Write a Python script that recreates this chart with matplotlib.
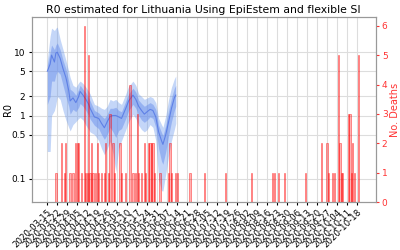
import numpy as np
import pandas as pd
import matplotlib
matplotlib.use("Agg")
import matplotlib.pyplot as plt
from matplotlib.ticker import FixedLocator, FixedFormatter, NullLocator

start = pd.Timestamp("2020-03-15")

# R0 estimates (day offsets from 2020-03-15)
r_day = [0, 2, 3, 5, 6, 7, 9, 11, 13, 15, 16, 18, 20, 22, 23, 25, 27, 29, 30, 33, 36, 38, 40, 42,
         44, 46, 48, 50, 52, 55, 57, 60, 62, 64, 66, 68, 70, 72, 74, 76, 78, 80, 81, 83, 85, 87, 89, 90]
r_med = [5.0, 6.5, 9.0, 7.0, 9.7, 10.0, 8.0, 5.5, 4.0, 2.5, 1.7, 1.9, 1.6, 2.0, 2.4, 2.1, 1.8, 1.5,
         1.3, 0.95, 0.9, 0.75, 0.64, 0.8, 0.97, 1.0, 1.0, 0.95, 0.9, 1.3, 1.7, 2.1, 1.8, 1.4, 1.2,
         1.05, 1.15, 1.25, 1.2, 0.95, 0.55, 0.4, 0.35, 0.5, 0.8, 1.3, 1.9, 2.1]
r_hi95 = [7.5, 18, 24, 22, 24, 25, 16, 11, 7.5, 5.0, 4.0, 3.0, 2.8, 3.3, 3.5, 3.2, 2.8, 2.4, 2.2,
          1.5, 1.4, 1.3, 1.25, 1.4, 1.8, 1.7, 1.8, 1.6, 1.5, 2.2, 2.9, 3.5, 3.0, 2.2, 2.0, 1.8,
          1.9, 2.0, 1.9, 1.6, 0.9, 0.72, 0.65, 1.0, 1.8, 2.8, 3.8, 4.2]
r_lo95 = [0.27, 0.27, 1.0, 1.2, 1.5, 2.0, 1.8, 1.2, 0.85, 0.65, 0.57, 0.72, 0.8, 0.9, 0.93, 0.85,
          0.7, 0.6, 0.55, 0.5, 0.4, 0.3, 0.24, 0.3, 0.39, 0.25, 0.13, 0.3, 0.4, 0.6, 0.8, 1.04,
          0.9, 0.7, 0.6, 0.55, 0.6, 0.72, 0.65, 0.4, 0.1, 0.065, 0.064, 0.12, 0.24, 0.4, 0.6, 0.75]
r_hi50 = [6.3, 10, 13, 11, 13, 14, 11, 7.5, 5.5, 3.5, 2.6, 2.4, 2.1, 2.6, 3.0, 2.6, 2.3, 1.9, 1.7,
          1.2, 1.1, 0.98, 0.9, 1.05, 1.3, 1.3, 1.35, 1.2, 1.15, 1.7, 2.2, 2.7, 2.35, 1.75, 1.55,
          1.4, 1.5, 1.6, 1.5, 1.25, 0.7, 0.54, 0.48, 0.7, 1.2, 1.9, 2.7, 3.0]
r_lo50 = [1.5, 2.0, 3.5, 3.5, 4.4, 5.0, 4.5, 3.0, 2.0, 1.4, 1.05, 1.25, 1.15, 1.35, 1.55, 1.4, 1.2,
          1.0, 0.88, 0.7, 0.62, 0.5, 0.42, 0.5, 0.65, 0.55, 0.45, 0.58, 0.62, 0.9, 1.2, 1.5, 1.3,
          1.0, 0.85, 0.78, 0.85, 0.95, 0.9, 0.65, 0.3, 0.19, 0.17, 0.27, 0.48, 0.8, 1.2, 1.4]

# Daily deaths (day offsets from 2020-03-15)
death_day = [6, 10, 12, 13, 16, 18, 20, 21, 22, 24, 26, 27, 28, 29, 30, 31, 32, 34, 35, 36, 38, 40,
             41, 43, 44, 46, 47, 51, 52, 55, 58, 60, 62, 63, 64, 66, 68, 69, 71, 72, 73, 74, 75,
             79, 85, 86, 87, 90, 91, 100, 110, 125, 143, 158, 159, 162, 166, 181, 192, 196, 197,
             200, 201, 204, 205, 206, 207, 211, 212, 213, 214, 215, 218]
deaths = [1, 2, 1, 2, 1, 1, 2, 2, 2, 1, 6, 1, 1, 5, 1, 2, 1, 1, 2, 1, 1, 1,
          2, 1, 3, 2, 1, 2, 1, 1, 4, 1, 1, 3, 1, 1, 2, 1, 2, 2, 2, 2, 1,
          1, 1, 2, 1, 1, 1, 1, 1, 1, 1, 1, 1, 1, 1, 1, 2, 2, 1,
          1, 1, 5, 2, 1, 1, 3, 3, 1, 2, 1, 5]

r_ticks = [0.1, 0.5, 1, 2, 5, 10]
r_tick_labels = ["0.1", "0.5", "1", "2", "5", "10"]
tick_dates = pd.date_range("2020-03-15", "2020-10-18", freq="7D")

r_dates = start + pd.to_timedelta(r_day, unit="D")
d_dates = start + pd.to_timedelta(death_day, unit="D")

fig = plt.figure(figsize=(4, 2.5), dpi=100)
ax = fig.add_axes([0.079, 0.192, 0.86, 0.74])

ax.fill_between(r_dates, r_lo95, r_hi95, color="#6495ed", alpha=0.38, lw=0)
ax.fill_between(r_dates, r_lo50, r_hi50, color="#6a8fec", alpha=0.5, lw=0)
ax.plot(r_dates, r_med, color="#5578e4", lw=0.8, alpha=0.85)

ax.set_yscale("log")
ax.set_ylim(0.043, 36)
ax.yaxis.set_major_locator(FixedLocator(r_ticks))
ax.yaxis.set_major_formatter(FixedFormatter(r_tick_labels))
ax.yaxis.set_minor_locator(NullLocator())
ax.set_ylabel("R0", fontsize=7)
ax.yaxis.set_label_coords(-0.055, 0.5)
ax.tick_params(axis="y", labelsize=6.5, length=2.5, pad=2)

ax.set_xlim(pd.Timestamp("2020-03-04"), pd.Timestamp("2020-10-31"))
ax.set_xticks(tick_dates)
ax.set_xticklabels([d.strftime("%Y-%m-%d") for d in tick_dates], rotation=45, ha="right",
                   rotation_mode="anchor", fontsize=6.2)
ax.tick_params(axis="x", length=2.5, pad=1.5)
ax.grid(True, color="#dddddd", lw=0.8)
ax.set_axisbelow(True)
ax.set_title("R0 estimated for Lithuania Using EpiEstem and flexible SI", fontsize=7.8, pad=3)

ax2 = ax.twinx()
ax2.bar(d_dates, deaths, width=0.9, facecolor=(1, 0, 0, 0.3), edgecolor=(1, 0, 0, 0.55), lw=0.5)
ax2.set_ylim(0, 6.3)
ax2.set_yticks(range(7))
ax2.tick_params(axis="y", colors="#ff3333", labelsize=6.5, length=2.5, pad=2)
ax2.set_ylabel("No. Deaths", color="#ff3333", fontsize=7, labelpad=2)

for a in (ax, ax2):
    for s in a.spines.values():
        s.set_color("#999999")

fig.savefig("out.png", dpi=100)
